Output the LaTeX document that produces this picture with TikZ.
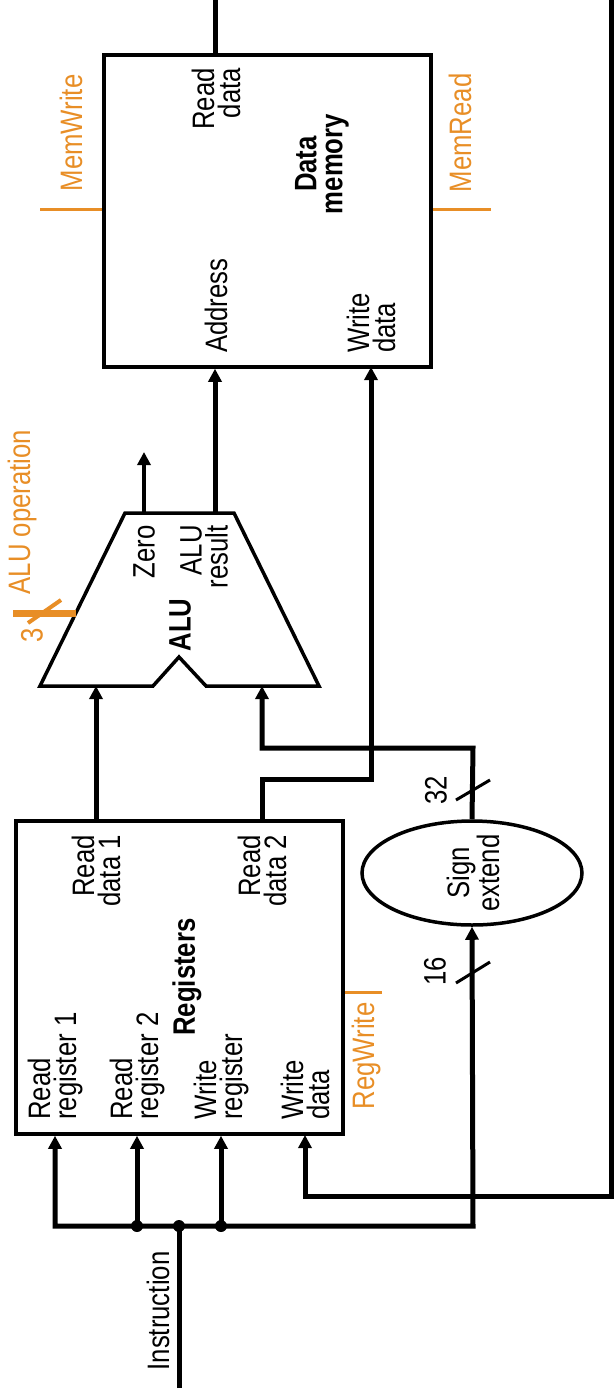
\documentclass[tikz,border=0pt]{standalone}
\usepackage{fontspec}
\setmainfont[FakeStretch=0.83]{Liberation Sans}
\usetikzlibrary{arrows.meta,shapes.geometric,calc}
\definecolor{ctrl}{RGB}{232,142,38}
\begin{document}
\begin{tikzpicture}[x=1pt,y=1pt,
  lbl/.style={rotate=90, inner sep=0pt, font=\fontsize{31}{26}\selectfont},
  bus/.style={line width=5pt},
  box/.style={draw, line width=3.5pt, inner sep=0pt},
  arr/.style={-{Triangle[length=13pt,width=13pt]}},
  ctl/.style={draw=ctrl, line width=3pt},
  dot/.style={circle, fill, inner sep=0pt, minimum size=12pt},
  ]
\useasboundingbox (0,0) rectangle (614,-1397);

% ---------- blocks ----------
\node[box, minimum width=327pt, minimum height=312pt] (dm) at (267.5,-211) {};
\node[box, minimum width=327pt, minimum height=313pt] (regs) at (179.5,-977.5) {};
\node[box, ellipse, minimum width=220pt, minimum height=104pt] (se) at (472,-873) {};

% ALU shape
\coordinate (aluA) at (96,-686);
\coordinate (aluB) at (262,-686);
\coordinate (aluZ) at (144,-513);
\coordinate (aluR) at (215,-513);
\coordinate (aluOp) at (76,-613);
\draw[line width=3.5pt, line join=miter] (40,-686) -- (125,-513) -- (234,-513) -- (319,-686)
  -- (206,-686) -- (179,-657) -- (153,-686) -- cycle;

% ---------- labels inside blocks ----------
\node[lbl, anchor=east, align=right] (lrd) at (216,-68) {Read\\data};
\node[lbl, align=center] (ldm) at (322,-164) {\bfseries Data\\\bfseries memory};
\node[lbl, anchor=west] (ladr) at (216,-353) {Address};
\node[lbl, anchor=west, align=left] (lwd) at (371,-353) {Write\\data};

\node[lbl, anchor=east] (lzero) at (144,-525) {Zero};
\node[lbl, anchor=east, align=right] (lres) at (204,-525) {ALU\\result};
\node[lbl] (lalu) at (180,-625) {\bfseries ALU};

\node[lbl, anchor=east, align=right] (lrd1) at (96,-835) {Read\\data 1};
\node[lbl, anchor=east, align=right] (lrd2) at (262,-835) {Read\\data 2};
\node[lbl] (lregs) at (187,-977) {\bfseries Registers};
\node[lbl, anchor=west, align=left] (lrr1) at (55,-1120) {Read\\register 1};
\node[lbl, anchor=west, align=left] (lrr2) at (137,-1120) {Read\\register 2};
\node[lbl, anchor=west, align=left] (lwr) at (221,-1120) {Write\\register};
\node[lbl, anchor=west, align=left] (lwrd) at (305,-1120) {Write\\data};

\node[lbl, align=center] (lse) at (473,-873) {Sign\\extend};

% ---------- outer labels ----------
\node[lbl] (linstr) at (158,-1311) {Instruction};
\node[lbl] (l16) at (435,-971) {16};
\node[lbl] (l32) at (436,-790) {32};
\node[lbl, text=ctrl] (laluop) at (22,-512) {ALU operation};
\node[lbl, text=ctrl] (l3) at (32,-635) {3};
\node[lbl, text=ctrl] (lmw) at (71,-133) {MemWrite};
\node[lbl, text=ctrl] (lmr) at (460,-133) {MemRead};
\node[lbl, text=ctrl] (lrw) at (366,-1056) {RegWrite};

% ---------- coordinates ----------
\coordinate (instrEnd) at (179,-1388);
\coordinate (j0) at (179,-1226);
\coordinate (j1) at (137,-1226);
\coordinate (j2) at (221,-1226);
\coordinate (busL) at (55,-1226);
\coordinate (busR) at (473,-1226);
\coordinate (topRD) at (215,0);
\coordinate (topR) at (611,0);
\coordinate (wbC) at (611,-1196);
\coordinate (seUp) at (473,-748);
\coordinate (rd2Up) at (262,-779);
\coordinate (mwC) at (40,-209);
\coordinate (mrC) at (491,-209);
\coordinate (rwC) at (382,-992);
\coordinate (opC) at (13,-613);

% ---------- datapath connectors ----------
\draw[bus] (instrEnd) -- (j0);
\draw[bus, {Triangle[length=13pt,width=13pt]}-{Triangle[length=13pt,width=13pt]}]
  (busL |- regs.south) -- (busL) -- (busR) -- (se.south);
\draw[bus, arr] (j1) -- (j1 |- regs.south);
\draw[bus, arr] (j2) -- (j2 |- regs.south);
\node[dot] (d1) at (j1) {};
\node[dot] (d0) at (j0) {};
\node[dot] (d2) at (j2) {};

\draw[bus, arr] (topR) -- (wbC) -- ++(-306,0) -- (305,-1135);

\draw[bus] (dm.north -| topRD) -- (topRD);

\draw[bus, arr] (aluA |- regs.north) -- (aluA);
\draw[bus, arr] (262,-821) -- (rd2Up) -- (371,-779) -- (371,-367);
\draw[bus, arr] (se.north) -- (seUp) -- (seUp -| aluB) -- (aluB);
\draw[bus, arr] (aluR) -- (aluR |- dm.south);
\draw[line width=3.5pt, arr] (aluZ) -- (144,-452);

% bus width marks
\draw[line width=3pt] (456,-983) -- (490,-962);
\draw[line width=3pt] (456,-800) -- (490,-780);

% ---------- control lines ----------
\draw[ctl] (mwC) -- (mwC -| dm.west);
\draw[ctl] (mrC) -- (mrC -| dm.east);
\draw[ctl] (rwC) -- (rwC -| regs.east);
\draw[draw=ctrl, line width=7pt] (opC) -- (aluOp);
\draw[draw=ctrl, line width=4pt] (28,-623) -- (61,-600);
\end{tikzpicture}
\end{document}
